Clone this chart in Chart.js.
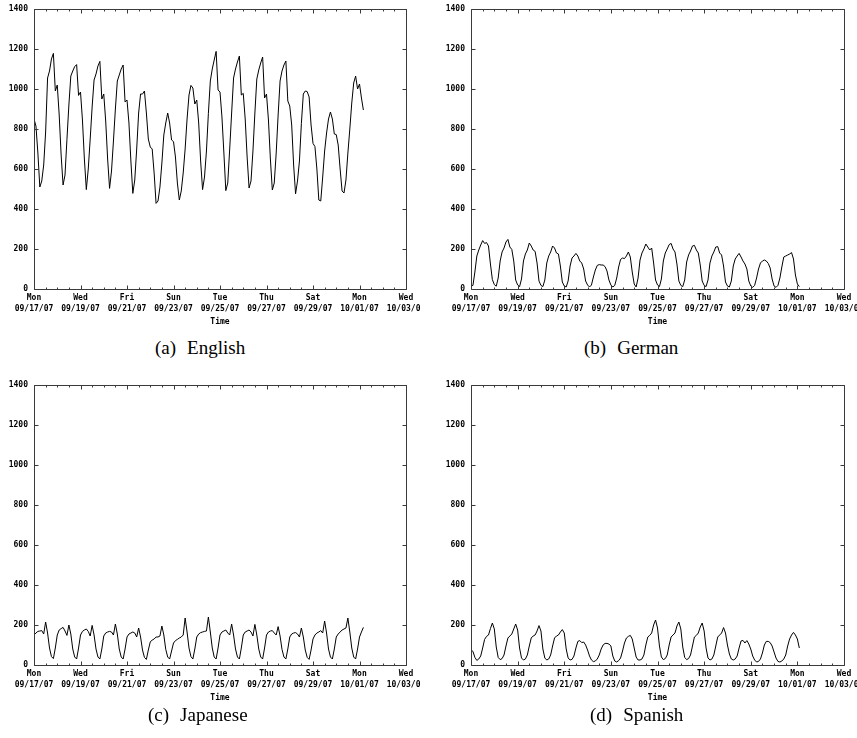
<!DOCTYPE html>
<html>
<head>
<meta charset="utf-8">
<script src="https://cdn.jsdelivr.net/npm/chart.js@4.4.1/dist/chart.umd.min.js"></script>
<style>
  html, body { margin: 0; padding: 0; background: #fff; }
  #page { position: relative; width: 857px; height: 738px; overflow: hidden; background: #fff; }
  .panel { position: absolute; }
  .cap {
    position: absolute;
    font-family: "Liberation Serif", "Times New Roman", serif;
    font-size: 19px;
    line-height: 19px;
    color: #000;
    white-space: nowrap;
  }
  .cap span { margin-right: 11px; }
</style>
</head>
<body>
<div id="page">
  <div class="panel" style="left:0;top:0"><canvas id="c-en" width="420" height="330"></canvas></div>
  <div class="panel" style="left:430px;top:0"><canvas id="c-de" width="427" height="330"></canvas></div>
  <div class="panel" style="left:0;top:376px"><canvas id="c-ja" width="420" height="330"></canvas></div>
  <div class="panel" style="left:430px;top:376px"><canvas id="c-es" width="427" height="330"></canvas></div>

  <div class="cap" style="left:155px;top:338px"><span>(a)</span>English</div>
  <div class="cap" style="left:584px;top:338px"><span>(b)</span>German</div>
  <div class="cap" style="left:148px;top:705px"><span>(c)</span>Japanese</div>
  <div class="cap" style="left:590px;top:705px"><span>(d)</span>Spanish</div>
</div>

<script>
// ---- axis labels (every 48 h from Mon 09/17/07 00:00) ----
const DAY_NAMES = ["Mon", "Wed", "Fri", "Sun", "Tue", "Thu", "Sat", "Mon", "Wed"];
const DATES = ["09/17/07", "09/19/07", "09/21/07", "09/23/07", "09/25/07",
               "09/27/07", "09/29/07", "10/01/07", "10/03/07"];
const X_MAX_H = 384;      // 16 days
const Y_MAX = 1400;
const STEP_H = 2;         // one sample every two hours

// ---- request rates, one row per day (00h, 02h, ... 22h) ----
const ENGLISH = [
  850, 815, 680, 510, 540, 620, 785, 1055, 1090, 1150, 1178, 990,
  1020, 870, 670, 520, 570, 748, 920, 1065, 1090, 1112, 1122, 968,
  985, 845, 650, 497, 600, 750, 910, 1045, 1075, 1115, 1138, 950,
  975, 840, 650, 503, 590, 740, 900, 1040, 1070, 1100, 1120, 935,
  945, 830, 640, 478, 545, 700, 880, 975, 975, 990, 880, 750,
  710, 700, 580, 428, 440, 510, 630, 770, 830, 880, 830, 745,
  737, 660, 530, 445, 490, 580, 700, 850, 970, 1018, 1005, 925,
  945, 830, 640, 497, 560, 690, 878, 1040, 1100, 1145, 1188, 995,
  985, 860, 680, 492, 530, 700, 880, 1055, 1100, 1135, 1165, 970,
  978, 850, 660, 505, 540, 690, 880, 1050, 1095, 1130, 1160, 955,
  975, 845, 650, 495, 530, 680, 870, 1040, 1090, 1120, 1140, 940,
  915, 820, 620, 476, 540, 640, 828, 975, 990, 987, 960, 820,
  728, 712, 600, 445, 440, 560, 690, 780, 850, 885, 850, 775,
  772, 720, 600, 490, 480, 545, 680, 800, 930, 1030, 1065, 1000,
  1025, 955, 895
];

const GERMAN = [
  15, 18, 85, 165, 195, 220, 242, 228, 232, 215, 125, 47,
  22, 14, 55, 140, 185, 205, 235, 248, 210, 198, 140, 45,
  20, 12, 50, 140, 175, 195, 230, 215, 195, 188, 130, 40,
  18, 12, 45, 130, 165, 185, 215, 205, 180, 175, 115, 35,
  15, 10, 40, 115, 155, 165, 178, 165, 140, 130, 100, 40,
  20, 10, 20, 60, 95, 118, 122, 120, 120, 112, 90, 45,
  20, 10, 18, 55, 110, 148, 155, 152, 165, 185, 160, 85,
  25, 10, 55, 145, 180, 200, 225, 210, 195, 205, 130, 45,
  20, 12, 50, 140, 180, 200, 222, 228, 200, 185, 125, 40,
  18, 12, 45, 135, 170, 190, 215, 218, 195, 180, 120, 40,
  18, 12, 45, 130, 165, 185, 210, 212, 180, 170, 115, 35,
  15, 10, 40, 115, 150, 165, 178, 160, 140, 125, 100, 40,
  15, 8, 18, 55, 100, 130, 140, 145, 140, 128, 105, 50,
  15, 8, 18, 55, 110, 160, 165, 170, 175, 182, 150, 70,
  25, 12
];

const JAPANESE = [
  150, 160, 168, 170, 172, 155, 215, 160, 85, 42, 32, 85,
  150, 175, 182, 188, 170, 148, 200, 155, 80, 40, 30, 85,
  150, 168, 175, 180, 168, 145, 198, 150, 80, 40, 30, 80,
  145, 160, 165, 168, 165, 150, 205, 155, 80, 40, 30, 80,
  140, 155, 160, 165, 160, 140, 185, 140, 75, 38, 28, 75,
  115, 125, 130, 140, 140, 145, 195, 150, 78, 40, 30, 70,
  110, 122, 128, 135, 140, 150, 235, 165, 85, 42, 30, 80,
  140, 155, 162, 165, 168, 170, 240, 165, 85, 40, 30, 85,
  150, 165, 170, 175, 160, 150, 205, 150, 80, 40, 30, 85,
  150, 165, 170, 175, 165, 145, 203, 150, 80, 40, 30, 85,
  150, 165, 170, 172, 160, 150, 192, 145, 78, 40, 30, 80,
  140, 155, 160, 162, 155, 140, 185, 140, 75, 38, 28, 75,
  130, 150, 160, 165, 172, 160, 220, 160, 80, 40, 30, 80,
  140, 155, 165, 175, 180, 185, 235, 165, 85, 40, 30, 80,
  140, 165, 188
];

const SPANISH = [
  75, 68, 38, 23, 30, 45, 85, 128, 143, 150, 182, 210,
  180, 90, 38, 27, 32, 50, 95, 135, 145, 155, 180, 205,
  175, 85, 35, 25, 30, 50, 95, 135, 145, 150, 170, 197,
  170, 80, 35, 25, 30, 50, 95, 135, 145, 150, 165, 177,
  160, 80, 35, 25, 28, 45, 85, 118, 122, 112, 115, 100,
  75, 45, 25, 17, 20, 30, 50, 80, 100, 108, 108, 105,
  95, 45, 20, 15, 22, 35, 70, 110, 135, 143, 148, 130,
  85, 40, 25, 25, 30, 50, 100, 140, 148, 160, 200, 225,
  185, 95, 40, 27, 32, 50, 100, 140, 150, 160, 195, 215,
  180, 90, 38, 27, 32, 50, 95, 140, 148, 160, 190, 210,
  170, 85, 35, 25, 30, 50, 95, 140, 150, 160, 187, 160,
  100, 55, 30, 25, 30, 45, 85, 120, 123, 110, 122, 105,
  80, 45, 25, 15, 18, 30, 60, 100, 118, 118, 112, 95,
  65, 35, 18, 15, 20, 30, 50, 95, 130, 150, 163, 150,
  130, 85
];

const FONT = "'DejaVu Sans Mono', 'Liberation Mono', monospace";
const FRAME = "#3a3a3a";

Chart.defaults.font.family = FONT;
Chart.defaults.font.size = 8;
Chart.defaults.font.weight = "bold";
Chart.defaults.color = "#000";

// frame round the plot and inward tick marks on all four sides (gnuplot style)
const frameTicks = {
  id: "frameTicks",
  afterDraw(chart) {
    const { ctx, chartArea: a, scales: { x, y } } = chart;
    ctx.save();
    ctx.strokeStyle = FRAME;
    ctx.lineWidth = 1;
    ctx.beginPath();
    ctx.rect(a.left + 0.5, a.top + 0.5, a.right - a.left, a.bottom - a.top);
    x.ticks.forEach((t) => {
      const px = Math.round(x.getPixelForValue(t.value)) + 0.5;
      const len = t.value % 48 === 0 ? 4 : 2;
      ctx.moveTo(px, a.bottom + 0.5);
      ctx.lineTo(px, a.bottom + 0.5 - len);
      ctx.moveTo(px, a.top + 0.5);
      ctx.lineTo(px, a.top + 0.5 + len);
    });
    y.ticks.forEach((t) => {
      const py = Math.round(y.getPixelForValue(t.value)) + 0.5;
      ctx.moveTo(a.left + 0.5, py);
      ctx.lineTo(a.left + 0.5 + 4, py);
      ctx.moveTo(a.right + 0.5, py);
      ctx.lineTo(a.right + 0.5 - 4, py);
    });
    ctx.stroke();
    ctx.restore();
  },
};

function makeChart(id, values, yAxisWidth, padRight) {
  const points = values.map((v, i) => ({ x: i * STEP_H, y: v }));
  return new Chart(document.getElementById(id), {
    type: "line",
    data: {
      datasets: [{
        data: points,
        borderColor: "#000",
        borderWidth: 1,
        pointRadius: 0,
        tension: 0,
        fill: false,
      }],
    },
    options: {
      responsive: false,
      animation: false,
      events: [],
      layout: { autoPadding: false, padding: { top: 9, right: padRight, left: 0, bottom: 0 } },
      plugins: { legend: { display: false }, tooltip: { enabled: false } },
      scales: {
        x: {
          type: "linear",
          min: 0,
          max: X_MAX_H,
          grid: { display: false, drawTicks: false },
          border: { display: false },
          ticks: {
            stepSize: 12,
            autoSkip: false,
            maxRotation: 0,
            padding: 3,
            font: { lineHeight: 1.44 },
            callback: (v) => (v % 48 === 0 ? [DAY_NAMES[v / 48], DATES[v / 48]] : ""),
          },
          title: { display: true, text: "Time", padding: { top: 0, bottom: 3 } },
          afterFit(scale) {
            scale.height = 41;
            scale.paddingLeft = scale.paddingRight = 0;
          },
        },
        y: {
          min: 0,
          max: Y_MAX,
          grid: { display: false, drawTicks: false },
          border: { display: false },
          ticks: { stepSize: 200, padding: 6, callback: (v) => String(v) },
          afterFit(scale) {
            scale.width = yAxisWidth;
            scale.paddingTop = scale.paddingBottom = 0;
          },
        },
      },
    },
    plugins: [frameTicks],
  });
}

makeChart("c-en", ENGLISH, 34, 14);
makeChart("c-de", GERMAN, 41, 13);
makeChart("c-ja", JAPANESE, 34, 14);
makeChart("c-es", SPANISH, 41, 13);
</script>
</body>
</html>
